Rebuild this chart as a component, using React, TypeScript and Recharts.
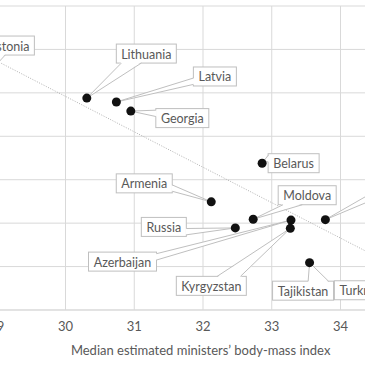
import { ScatterChart, Scatter, XAxis, YAxis, CartesianGrid } from "recharts";

const countries = [
  "Estonia",
  "Lithuania",
  "Latvia",
  "Georgia",
  "Belarus",
  "Armenia",
  "Moldova",
  "Russia",
  "Azerbaijan",
  "Kyrgyzstan",
  "Ukraine",
  "Tajikistan",
  "Turkmenistan",
];
const bmiValues = [28.5, 30.31, 30.74, 30.95, 32.86, 32.12, 32.73, 32.47, 33.28, 33.27, 33.78, 33.55, 34.9];
const scoreValues = [4.8, 4.88, 4.79, 4.58, 3.38, 2.49, 2.09, 1.89, 2.07, 1.88, 2.08, 1.09, 0.8];

const xTicks = [28, 29, 30, 31, 32, 33, 34, 35];
const yTicks = [0, 1, 2, 3, 4, 5, 6, 7];

// end points of the fitted line
const trendBmi = [28, 35];
const trendScore = [6.55, 0.84];

// where each callout box sits, relative to its dot (px)
const calloutOffset: Record<string, [number, number]> = {
  Estonia: [47, -56],
  Lithuania: [59.5, -44.5],
  Latvia: [98.5, -25.5],
  Georgia: [51.5, 7],
  Belarus: [31.5, 0],
  Armenia: [-67, -18.5],
  Moldova: [54, -24],
  Russia: [-71.5, -1],
  Azerbaijan: [-168.5, 41.5],
  Kyrgyzstan: [-79, 57.5],
  Ukraine: [70, -37],
  Tajikistan: [-6.5, 28],
  Turkmenistan: [-26, 15],
};

const points = countries.map((name, i) => ({ name, x: bmiValues[i], y: scoreValues[i] }));
const trend = trendBmi.map((x, i) => ({ x, y: trendScore[i] }));

const GREY = "#595959";
const BORDER = "#bfbfbf";
const FONT = "Lato, 'Open Sans', sans-serif";

let ctx: CanvasRenderingContext2D | null = null;
function textWidth(s: string) {
  if (!ctx) ctx = document.createElement("canvas").getContext("2d");
  if (!ctx) return s.length * 6;
  ctx.font = "12.5px Lato";
  return ctx.measureText(s).width;
}

function Callout(props: any) {
  const { cx, cy, payload } = props;
  const [dx, dy] = calloutOffset[payload.name] || [0, 0];
  const w = Math.round(textWidth(payload.name) + 10);
  const h = 19;
  const bx = cx + dx - w / 2;
  const by = cy + dy - h / 2;

  // wedge base like an office callout
  const rx = -dx / w;
  const ry = -dy / h;
  let b1: number[], b2: number[], in1: number[], in2: number[];
  if (Math.abs(rx) > Math.abs(ry)) {
    const ex = rx < 0 ? bx : bx + w;
    const f = ry > 0 ? [7 / 12, 11 / 12] : [1 / 12, 5 / 12];
    b1 = [ex, by + h * f[0]];
    b2 = [ex, by + h * f[1]];
    const s = rx < 0 ? 1 : -1;
    in1 = [ex + s, b1[1]];
    in2 = [ex + s, b2[1]];
  } else {
    const ey = ry < 0 ? by : by + h;
    const f = rx > 0 ? [7 / 12, 11 / 12] : [1 / 12, 5 / 12];
    b1 = [bx + w * f[0], ey];
    b2 = [bx + w * f[1], ey];
    const s = ry < 0 ? 1 : -1;
    in1 = [b1[0], ey + s];
    in2 = [b2[0], ey + s];
  }

  return (
    <g>
      <rect x={bx} y={by} width={w} height={h} fill="#fff" stroke={BORDER} strokeWidth={1} />
      <polygon points={`${in1.join(",")} ${cx},${cy} ${in2.join(",")}`} fill="#fff" stroke="none" />
      <polyline
        points={`${b1.join(",")} ${cx},${cy} ${b2.join(",")}`}
        fill="none"
        stroke={BORDER}
        strokeWidth={1}
      />
      <text
        x={bx + w / 2}
        y={by + h / 2 + 0.5}
        textAnchor="middle"
        dominantBaseline="central"
        fontSize={12.5}
        fontFamily={FONT}
        fill={GREY}
      >
        {payload.name}
      </text>
      <circle cx={cx} cy={cy} r={4.5} fill="#111" />
    </g>
  );
}

export default function App() {
  return (
    <div
      style={{
        position: "fixed",
        left: 0,
        top: 0,
        width: 365,
        height: 365,
        overflow: "hidden",
        background: "#fff",
        fontFamily: FONT,
      }}
    >
      <div style={{ position: "absolute", left: -72.5, top: 0 }}>
        <ScatterChart width={492} height={365} margin={{ top: 6, right: 10.75, left: 0, bottom: 0 }}>
          <CartesianGrid stroke="#d9d9d9" strokeWidth={1} />
          <XAxis
            type="number"
            dataKey="x"
            domain={[28, 35]}
            ticks={xTicks}
            allowDataOverflow
            height={55}
            axisLine={{ stroke: "#d9d9d9" }}
            tickLine={false}
            tickMargin={6}
            tick={{ fill: GREY, fontSize: 13, fontFamily: FONT }}
            label={{
              value: "Median estimated ministers\u2019 body-mass index",
              position: "insideBottom",
              offset: 10,
              fill: GREY,
              fontSize: 13,
              fontFamily: FONT,
              dx: 32,
            }}
          />
          <YAxis type="number" dataKey="y" domain={[0, 7]} ticks={yTicks} hide allowDataOverflow />
          <Scatter
            data={trend}
            line={{ stroke: "#b0b0b0", strokeWidth: 1, strokeDasharray: "1 1.5" }}
            shape={() => <g />}
            isAnimationActive={false}
          />
          <Scatter data={points} shape={Callout} isAnimationActive={false} />
        </ScatterChart>
      </div>
    </div>
  );
}
